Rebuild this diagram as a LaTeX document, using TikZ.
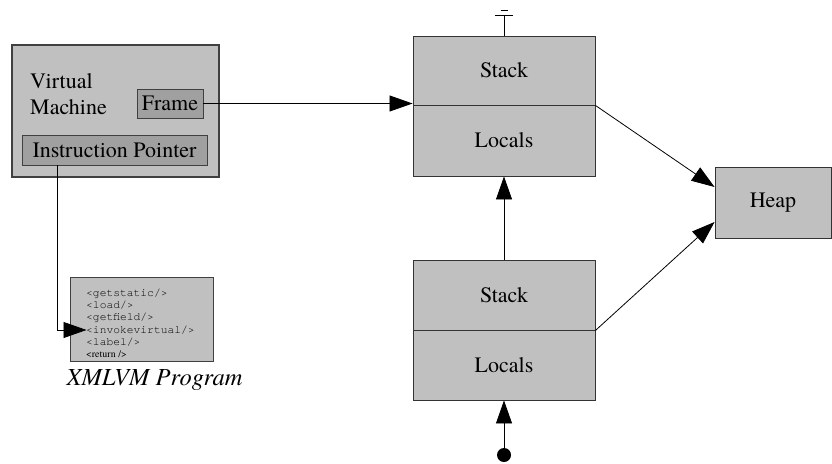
\documentclass[tikz,border=0pt]{standalone}
\usepackage{fontspec}
\setmainfont{texgyretermes}[Extension=.otf, UprightFont=*-regular, ItalicFont=*-italic, BoldFont=*-bold]
\setmonofont{texgyrecursor}[Extension=.otf, UprightFont=*-regular]
\usetikzlibrary{arrows.meta}
\definecolor{boxfill}{HTML}{C0C0C0}
\definecolor{darkfill}{HTML}{A0A0A0}
\definecolor{edgegray}{HTML}{404040}
\tikzset{
  bigbox/.style={draw=edgegray, fill=boxfill, line width=1.3pt, inner sep=0pt},
  innerbox/.style={draw=edgegray, fill=darkfill, line width=0.9pt, inner sep=0pt},
  cell/.style={draw=black!80, fill=boxfill, line width=0.9pt, inner sep=0pt, minimum width=182pt,
     font=\fontsize{22}{26}\selectfont},
  arr/.style={-{Triangle[length=23pt,width=16pt]}, line width=0.8pt},
  conn/.style={line width=0.8pt},
  lbl/.style={font=\fontsize{22}{26}\selectfont, inner sep=0pt},
}
\begin{document}
\begin{tikzpicture}[x=1pt,y=-1pt]
\useasboundingbox (0,0) rectangle (832,463);
% Virtual machine
\node[bigbox, minimum width=207pt, minimum height=132pt] (vm) at (115.5,111) {};
\node[lbl, anchor=west, align=left] (vmt) at (30,94) {Virtual\\Machine};
\node[innerbox, minimum width=66pt, minimum height=29pt, lbl] (frame) at (170,103.5) {Frame};
\node[innerbox, minimum width=185pt, minimum height=30pt, lbl] (ip) at (114.5,150) {Instruction Pointer};
% program
\node[bigbox, line width=1pt, minimum width=143pt, minimum height=84pt] (prog) at (141.5,319) {};
\node[anchor=north west, inner sep=0pt, align=left, font=\fontsize{11.3}{12.3}\selectfont\ttfamily] (code) at (86,288.5)
 {<getstatic/>\\<load/>\\<getfield/>\\<invokevirtual/>\\<label/>\\{\rmfamily\fontsize{10}{12}\selectfont<return />}};
\node[font=\fontsize{24.5}{28}\selectfont\itshape, inner sep=0pt] (progl) at (154.5,380) {XMLVM Program};
% frames
\node[cell, minimum height=69pt] (s1) at (504,70.5) {Stack};
\node[cell, minimum height=71pt] (l1) at (504,140.5) {Locals};
\node[cell, minimum height=70pt] (s2) at (504,295) {Stack};
\node[cell, minimum height=70pt] (l2) at (504,365) {Locals};
% heap
\node[cell, minimum width=116pt, minimum height=71pt] (heap) at (773,202.5) {Heap};
% null marker
\draw[conn] (s1.north) -- ++(0,-20) coordinate (tt);
\draw[conn] ([xshift=-9pt]tt) -- ([xshift=9pt]tt);
\draw[conn] ([xshift=-3.5pt,yshift=5pt]tt) -- ([xshift=3.5pt,yshift=5pt]tt);
% connectors
\draw[arr] (frame.east) -- (frame.east -| s1.west);
\draw[arr] (s1.south east) -- ([yshift=15.5pt]heap.west);
\draw[arr] (s2.south east) -- ([yshift=-19.5pt]heap.west);
\draw[arr] (s2.north) -- (l1.south);
\coordinate (dotc) at (504,455);
\fill (dotc) circle (7pt);
\draw[arr] (dotc) -- (l2.south);
\coordinate (pin) at ([xshift=17pt,yshift=-11pt]prog.west);
\draw[arr] ([xshift=36pt]ip.south west) |- (pin);
\end{tikzpicture}
\end{document}
